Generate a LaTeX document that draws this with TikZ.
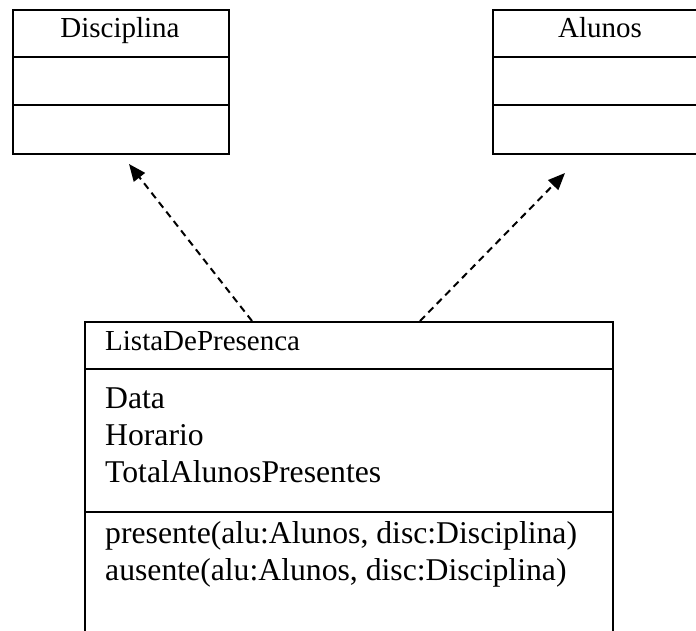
\documentclass[tikz,border=0pt]{standalone}
\usepackage{fontspec}
\setmainfont{Liberation Serif}
\usetikzlibrary{arrows.meta}
\tikzset{
  classbox/.style={draw, line width=2.3pt, rectangle, anchor=north west, inner sep=0pt},
  sepline/.style={line width=2.3pt},
  headtext/.style={font=\fontsize{29}{37}\selectfont, inner sep=0pt},
  bodytext/.style={font=\fontsize{31.7}{37}\selectfont, inner sep=0pt, anchor=base west},
  depend/.style={line width=2pt, dash pattern=on 7pt off 5pt, -{Triangle[length=17pt,width=14pt]}}
}
\begin{document}
\begin{tikzpicture}[x=1pt,y=-1pt]
  \useasboundingbox (0,0) rectangle (696,630);
  \clip (0,0) rectangle (696,630);

  % Disciplina class
  \node[classbox, minimum width=216pt, minimum height=144pt] (disc) at (12,9) {};
  \draw[sepline] ([yshift=-48pt]disc.north west) -- ([yshift=-48pt]disc.north east);
  \draw[sepline] ([yshift=-96pt]disc.north west) -- ([yshift=-96pt]disc.north east);
  \node[headtext, anchor=base] (discname) at (120,37) {Disciplina};

  % Alunos class
  \node[classbox, minimum width=216pt, minimum height=144pt] (alu) at (492,9) {};
  \draw[sepline] ([yshift=-48pt]alu.north west) -- ([yshift=-48pt]alu.north east);
  \draw[sepline] ([yshift=-96pt]alu.north west) -- ([yshift=-96pt]alu.north east);
  \node[headtext, anchor=base] (aluname) at (600,37) {Alunos};

  % ListaDePresenca class
  \node[classbox, minimum width=528pt, minimum height=340pt] (lista) at (84,321) {};
  \draw[sepline] ([yshift=-48pt]lista.north west) -- ([yshift=-48pt]lista.north east);
  \draw[sepline] ([yshift=-191pt]lista.north west) -- ([yshift=-191pt]lista.north east);
  \node[headtext, anchor=base west] (listaname) at (105,350) {ListaDePresenca};
  \node[bodytext] (a1) at (105,408) {Data};
  \node[bodytext] (a2) at (105,445) {Horario};
  \node[bodytext] (a3) at (105,482) {TotalAlunosPresentes};
  \node[bodytext] (m1) at (105,543) {presente(alu:Alunos, disc:Disciplina)};
  \node[bodytext] (m2) at (105,580) {ausente(alu:Alunos, disc:Disciplina)};

  % Dependencies
  \coordinate (fromL) at (252,321);
  \coordinate (fromR) at (420,321);
  \coordinate (toDisc) at (129,164);
  \coordinate (toAlu) at (565,173);
  \draw[depend] (fromL) -- (toDisc);
  \draw[depend] (fromR) -- (toAlu);
\end{tikzpicture}
\end{document}
